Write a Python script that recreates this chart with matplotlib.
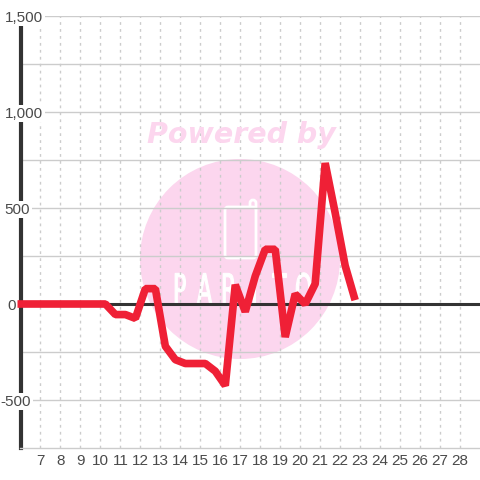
import matplotlib
matplotlib.use("Agg")
from matplotlib import pyplot as plt
from matplotlib.patches import Circle, FancyBboxPatch, PathPatch
from matplotlib.textpath import TextPath
from matplotlib.transforms import Affine2D, blended_transform_factory

x_ticks = list(range(7, 29))
y_ticks = [-500, 0, 500, 1000, 1500]
y_labels = ["-500", "0", "500", "1,000", "1,500"]
y_label_right = [31, 16, 30, 43, 43]  # right edge of each label, px

line_x = [5.85, 6.25, 6.75, 7.25, 7.75, 8.25, 8.75, 9.25, 9.75, 10.25, 10.75, 11.25, 11.75, 12.25,
          12.75, 13.25, 13.75, 14.25, 14.75, 15.25, 15.75, 16.25, 16.75, 17.25, 17.75, 18.25,
          18.75, 19.25, 19.75, 20.25, 20.75, 21.25, 21.75, 22.25, 22.75]
line_y = [0, 0, 0, 0, 0, 0, 0, 0, 0, 0, -55, -55, -75, 80, 80, -220, -290, -310, -310, -310,
          -350, -425, 100, -40, 145, 285, 285, -172, 52, 0, 105, 734, 475, 200, 20]

fig = plt.figure(figsize=(4.8, 4.8), dpi=100)
ax = fig.add_axes([20.5 / 480, 32 / 480, 459.5 / 480, 432 / 480])
ax.set_xlim(6, 29)
ax.set_ylim(-750, 1500)

pink = "#fcd6ee"
text_col = "#4a4a4a"

# watermark, placed in figure pixels (y up)
px = Affine2D().scale(1 / 480) + fig.transFigure
ax.add_patch(Circle((240, 221), 100, transform=px, fc=pink, ec="none", zorder=0))
ax.add_patch(FancyBboxPatch((250, 268), 6, 12, boxstyle="round,pad=0,rounding_size=3",
                            transform=px, fc=pink, ec="white", lw=2, zorder=0.5))
ax.add_patch(FancyBboxPatch((225, 222), 31, 51, boxstyle="round,pad=0,rounding_size=3",
                            transform=px, fc=pink, ec="white", lw=2, zorder=0.5))
fig.text(241 / 480, 345 / 480, "Powered by", color=pink, fontsize=20.5, fontweight="bold", fontstyle="italic",
         family="DejaVu Sans", ha="center", va="center", zorder=0)

for letter, left in zip("PARITO", [173, 197, 221, 251, 272, 295]):
    tp = TextPath((0, 0), letter, size=40, prop=dict(family="DejaVu Sans"))
    shape = Affine2D().scale(0.55, 1.05).translate(left, 176)
    ax.add_patch(PathPatch(tp, transform=shape + px, fc="white", ec="white", lw=0.8, zorder=0.5))

ax.set_xticks(x_ticks)
ax.set_xticklabels([str(t) for t in x_ticks], fontsize=11, family="Liberation Sans", color=text_col)
ax.set_yticks(y_ticks)
ax.set_yticklabels([])
ax.set_yticks([-250, 250, 750, 1250], minor=True)
ax.tick_params(axis="both", which="both", length=0)
ax.tick_params(axis="x", pad=4)
ax.grid(axis="y", which="both", color="#cccccc", lw=1)
ax.grid(axis="x", color="#cccccc", lw=1, ls=(0, (2, 3)))
ax.set_axisbelow(True)
ax.patch.set_alpha(0)

for s in ["top", "right"]:
    ax.spines[s].set_visible(False)
ax.spines["bottom"].set_color("#cccccc")
ax.spines["bottom"].set_linewidth(1)
ax.spines["left"].set_color("#333333")
ax.spines["left"].set_linewidth(3)
ax.spines["left"].set_zorder(2)

ax.axhline(0, color="#333333", lw=2.2, zorder=2)
ax.plot(line_x, line_y, color="#ef2036", lw=5.5, solid_joinstyle="bevel", solid_capstyle="butt",
        clip_on=False, zorder=4)

label_tf = blended_transform_factory(fig.transFigure, ax.transData)
for v, lab, right in zip(y_ticks, y_labels, y_label_right):
    ax.text(right / 480, v, lab, transform=label_tf, ha="right", va="center_baseline", fontsize=11,
            family="Liberation Sans", color=text_col, bbox=dict(fc="white", ec="none", pad=1.2),
            zorder=3, clip_on=False)

fig.savefig("out.png", dpi=100)
